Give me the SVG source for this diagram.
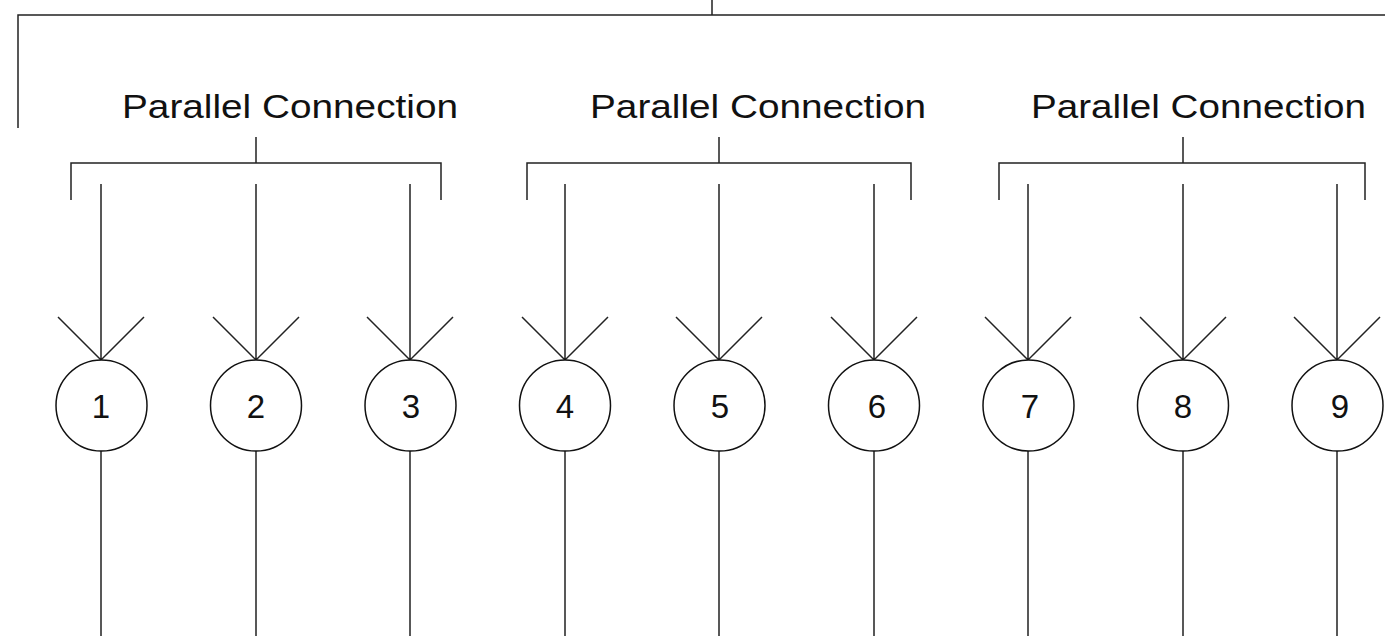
<svg xmlns="http://www.w3.org/2000/svg" width="1385" height="636" viewBox="0 0 1385 636">
<style>
.ln{fill:none;stroke:#222;stroke-width:1.5}
.c{fill:#fff;stroke:#111;stroke-width:1.5}
.t{font-family:"Liberation Sans",Arial,sans-serif;font-size:34px;fill:#111}
.n{font-family:"Liberation Sans",Arial,sans-serif;font-size:33px;fill:#111;text-anchor:middle}
</style>
<defs>
<g id="node">
<circle class="c" cx="0" cy="405.5" r="45.5"/>
</g>
</defs>
<g id="connectors">
<path class="ln" d="M712,0 V15 M18,128 V15 H1385"/>
<path class="ln" d="M256,137 V163 M71,200 V163 H441 V200"/>
<path class="ln" d="M719,137 V163 M527,200 V163 H911 V200"/>
<path class="ln" d="M1183,137 V163 M999,200 V163 H1365 V200"/>
<path class="ln" d="M101,184 V360 M58,317 L101,360 L144,317 M101,451 V636"/>
<path class="ln" d="M256,184 V360 M213,317 L256,360 L299,317 M256,451 V636"/>
<path class="ln" d="M410,184 V360 M367,317 L410,360 L453,317 M410,451 V636"/>
<path class="ln" d="M565,184 V360 M522,317 L565,360 L608,317 M565,451 V636"/>
<path class="ln" d="M719,184 V360 M676,317 L719,360 L762,317 M719,451 V636"/>
<path class="ln" d="M874,184 V360 M831,317 L874,360 L917,317 M874,451 V636"/>
<path class="ln" d="M1028,184 V360 M985,317 L1028,360 L1071,317 M1028,451 V636"/>
<path class="ln" d="M1183,184 V360 M1140,317 L1183,360 L1226,317 M1183,451 V636"/>
<path class="ln" d="M1337,184 V360 M1294,317 L1337,360 L1380,317 M1337,451 V636"/>
</g>
<g id="label1"><text class="t" x="122" y="118" textLength="336" lengthAdjust="spacingAndGlyphs">Parallel Connection</text></g>
<g id="label2"><text class="t" x="590" y="118" textLength="336" lengthAdjust="spacingAndGlyphs">Parallel Connection</text></g>
<g id="label3"><text class="t" x="1031" y="118" textLength="335" lengthAdjust="spacingAndGlyphs">Parallel Connection</text></g>
<g id="n1"><use href="#node" x="101.5"/><text class="n" x="101" y="418">1</text></g>
<g id="n2"><use href="#node" x="256"/><text class="n" x="256" y="418">2</text></g>
<g id="n3"><use href="#node" x="410.5"/><text class="n" x="411" y="418">3</text></g>
<g id="n4"><use href="#node" x="565"/><text class="n" x="565" y="418">4</text></g>
<g id="n5"><use href="#node" x="719.5"/><text class="n" x="720" y="418">5</text></g>
<g id="n6"><use href="#node" x="874"/><text class="n" x="877" y="418">6</text></g>
<g id="n7"><use href="#node" x="1028.5"/><text class="n" x="1030" y="418">7</text></g>
<g id="n8"><use href="#node" x="1183"/><text class="n" x="1183" y="418">8</text></g>
<g id="n9"><use href="#node" x="1337.5"/><text class="n" x="1340" y="418">9</text></g>
</svg>
